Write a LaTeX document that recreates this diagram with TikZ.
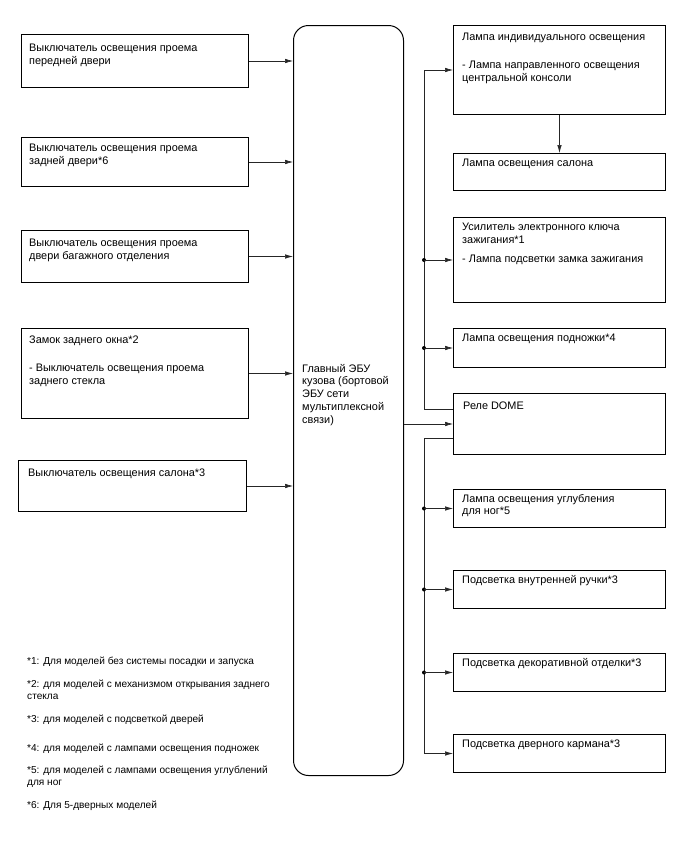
\documentclass[tikz,border=0pt]{standalone}
\usepackage{fontspec}
\setmainfont{Liberation Sans}
\usetikzlibrary{arrows.meta}
\begin{document}
\begin{tikzpicture}[x=1pt,y=-1pt,
  every node/.style={font=\fontsize{10.9}{12.7}\selectfont},
  box/.style={draw=black, line width=1pt, inner sep=0pt, anchor=north west},
  txt/.style={anchor=north west, inner sep=0pt, align=left, text=black},
  note/.style={txt, font=\fontsize{10.1}{11.8}\selectfont},
  conn/.style={line width=0.6pt, draw=black!85},
  arr/.style={conn, -{Latex[length=8pt,width=4.5pt]}},
  dot/.style={circle, fill=black, inner sep=0pt, minimum size=4pt}]
\useasboundingbox (0,0) rectangle (688,852);
\coordinate (busx) at (424,0);

% central ECU
\node[box, rounded corners=15pt, minimum width=110pt, minimum height=750pt] (ecu) at (293,25) {};
\node[txt] (ecut) at (302,364) {Главный ЭБУ\\кузова (бортовой\\ЭБУ сети\\мультиплексной\\связи)};

% left boxes
\node[box, minimum width=227pt, minimum height=53pt] (l1) at (21,34) {};
\node[box, minimum width=227pt, minimum height=49pt] (l2) at (21,137) {};
\node[box, minimum width=227pt, minimum height=52pt] (l3) at (21,230) {};
\node[box, minimum width=227pt, minimum height=90pt] (l4) at (21,328) {};
\node[box, minimum width=228pt, minimum height=51pt] (l5) at (18,460) {};

\node[txt] (l1t) at (29,44) {Выключатель освещения проема\\передней двери};
\node[txt] (l2t) at (29,144) {Выключатель освещения проема\\задней двери*6};
\node[txt] (l3t) at (29,239) {Выключатель освещения проема\\двери багажного отделения};
\node[txt] (l4t) at (29,336) {Замок заднего окна*2\\[15pt]- Выключатель освещения проема\\заднего стекла};
\node[txt] (l5t) at (28,469) {Выключатель освещения салона*3};

% right boxes
\node[box, minimum width=212pt, minimum height=89pt] (r1) at (453,25) {};
\node[box, minimum width=212pt, minimum height=37pt] (r2) at (453,153) {};
\node[box, minimum width=212pt, minimum height=85pt] (r3) at (453,217) {};
\node[box, minimum width=212pt, minimum height=39pt] (r4) at (453,328) {};
\node[box, minimum width=212pt, minimum height=61pt] (r5) at (453,393) {};
\node[box, minimum width=212pt, minimum height=38pt] (r6) at (453,489) {};
\node[box, minimum width=212pt, minimum height=38pt] (r7) at (453,570) {};
\node[box, minimum width=212pt, minimum height=38pt] (r8) at (453,653) {};
\node[box, minimum width=212pt, minimum height=38pt] (r9) at (453,734) {};

\node[txt] (r1t) at (462,33) {Лампа индивидуального освещения\\[15pt]- Лампа направленного освещения\\центральной консоли};
\node[txt] (r2t) at (462,159) {Лампа освещения салона};
\node[txt] (r3t) at (462,223) {Усилитель электронного ключа\\зажигания*1\\[6.5pt]- Лампа подсветки замка зажигания};
\node[txt] (r4t) at (462,334) {Лампа освещения подножки*4};
\node[txt] (r5t) at (463,402) {Реле DOME};
\node[txt] (r6t) at (462,494) {Лампа освещения углубления\\для ног*5};
\node[txt] (r7t) at (462,575) {Подсветка внутренней ручки*3};
\node[txt] (r8t) at (462,658) {Подсветка декоративной отделки*3};
\node[txt] (r9t) at (462,740) {Подсветка дверного кармана*3};

% footnotes
\node[note] (f1) at (27,657) {*1: Для моделей без системы посадки и запуска};
\node[note] (f2) at (27,680) {*2: для моделей с механизмом открывания заднего\\стекла};
\node[note] (f3) at (27,715) {*3: для моделей с подсветкой дверей};
\node[note] (f4) at (27,744) {*4: для моделей с лампами освещения подножек};
\node[note] (f5) at (27,766) {*5: для моделей с лампами освещения углублений\\для ног};
\node[note] (f6) at (27,801) {*6: Для 5-дверных моделей};

% inputs
\foreach \b in {l1,l2,l3,l4,l5}
  \draw[arr] (\b.east) -- (\b.east -| ecu.west);

% ECU to DOME relay
\draw[arr] (r5.west -| ecu.east) -- (r5.west);

% upper bus
\draw[arr] ([yshift=14.5pt]r5.west) -- ([yshift=14.5pt]r5.west -| busx) |- (r1.west);
\node[dot] (d3) at (r3.west -| busx) {};
\node[dot] (d4) at (r4.west -| busx) {};
\draw[arr] (d3.center) -- (r3.west);
\draw[arr] (d4.center) -- (r4.west);

% lower bus
\draw[arr] ([yshift=-14.5pt]r5.west) -- ([yshift=-14.5pt]r5.west -| busx) |- (r9.west);
\node[dot] (d6) at (r6.west -| busx) {};
\node[dot] (d7) at (r7.west -| busx) {};
\node[dot] (d8) at (r8.west -| busx) {};
\draw[arr] (d6.center) -- (r6.west);
\draw[arr] (d7.center) -- (r7.west);
\draw[arr] (d8.center) -- (r8.west);

% R1 to R2
\draw[arr] (r1.south) -- (r2.north);
\end{tikzpicture}
\end{document}
